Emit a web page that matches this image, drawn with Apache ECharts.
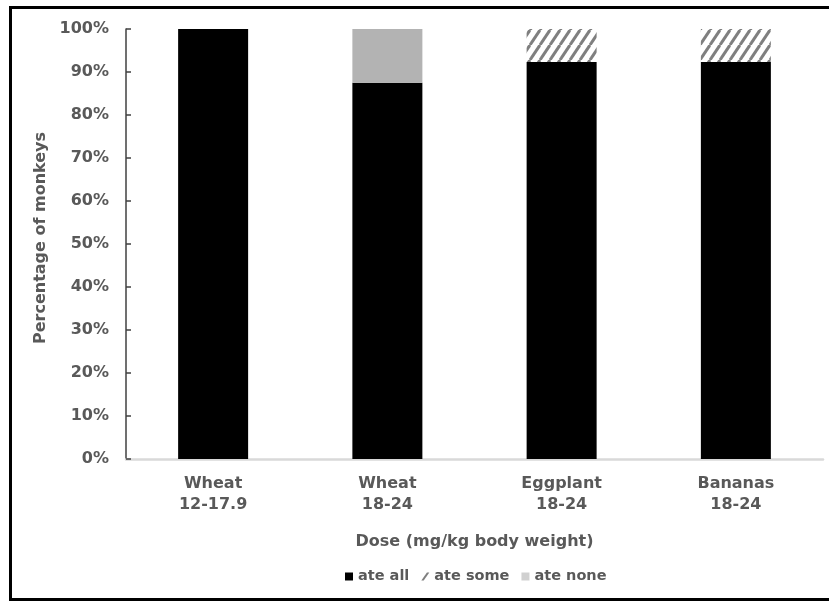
<!DOCTYPE html>
<html>
<head>
<meta charset="utf-8">
<script src="https://cdn.jsdelivr.net/npm/echarts@6/dist/echarts.min.js"></script>
<style>
html,body{margin:0;padding:0;background:#fff;}
#chart{width:829px;height:601px;}
</style>
</head>
<body>
<div id="chart"></div>
<script>
const categories = ['Wheat\n12-17.9', 'Wheat\n18-24', 'Eggplant\n18-24', 'Bananas\n18-24'];
const ateAll = [100, 87.5, 92.3, 92.3];
const ateSome = [0, 0, 7.7, 7.7];
const ateNone = [0, 12.5, 0, 0];
const seriesNames = ['ate all', 'ate some', 'ate none'];
const yTicks = { min: 0, max: 100, interval: 10 };

function hatch() {
  const w = 10, h = 15;
  const c = document.createElement('canvas');
  c.width = w; c.height = h;
  const ctx = c.getContext('2d');
  ctx.fillStyle = '#ffffff';
  ctx.fillRect(0, 0, w, h);
  ctx.strokeStyle = '#7f7f7f';
  ctx.lineWidth = 3;
  for (let k = -1; k <= 1; k++) {
    ctx.beginPath();
    ctx.moveTo(k * w, h);
    ctx.lineTo(k * w + w, 0);
    ctx.stroke();
  }
  return c;
}

const txt = '#595959';
const font = 'DejaVu Sans, Liberation Sans, Arial, sans-serif';
const chart = echarts.init(document.getElementById('chart'), null, { renderer: 'canvas' });
chart.setOption({
  animation: false,
  backgroundColor: '#fff',
  textStyle: { fontFamily: font },
  grid: { left: 126, right: 6, top: 29, bottom: 142 },
  legend: {
    left: 340, top: 564,
    itemWidth: 8, itemHeight: 8, itemGap: 12,
    textStyle: { color: txt, fontSize: 14.5, fontWeight: 'bold', fontFamily: font },
    data: [
      { name: seriesNames[0], icon: 'rect', itemStyle: { color: '#000' } },
      { name: seriesNames[1], icon: 'path://M0,10 L7,0 L10,0 L3,10 Z', itemStyle: { color: '#7f7f7f' } },
      { name: seriesNames[2], icon: 'rect', itemStyle: { color: '#d0d0d0' } }
    ]
  },
  xAxis: {
    type: 'category',
    data: categories,
    name: 'Dose (mg/kg body weight)',
    nameLocation: 'middle',
    nameGap: 75,
    nameTextStyle: { color: txt, fontSize: 16, fontWeight: 'bold', fontFamily: font },
    axisLine: { lineStyle: { color: '#d9d9d9', width: 2.5 } },
    axisTick: { show: false },
    axisLabel: { color: txt, fontSize: 16, fontWeight: 'bold', lineHeight: 21, margin: 14, fontFamily: font }
  },
  yAxis: {
    type: 'value',
    min: yTicks.min, max: yTicks.max, interval: yTicks.interval,
    name: 'Percentage of monkeys',
    nameLocation: 'middle',
    nameGap: 75,
    nameTextStyle: { color: txt, fontSize: 16, fontWeight: 'bold', fontFamily: font, padding: [0, 0, 0, 12] },
    axisLine: { show: true, lineStyle: { color: '#404040', width: 1.5 } },
    axisTick: { show: true, inside: true, length: 5, lineStyle: { color: '#404040', width: 1.5 } },
    splitLine: { show: false },
    axisLabel: { color: txt, fontSize: 16, fontWeight: 'bold', margin: 17, formatter: '{value}%', fontFamily: font }
  },
  series: [
    { name: seriesNames[0], type: 'bar', stack: 's', data: ateAll, barWidth: 70, itemStyle: { color: '#000' } },
    { name: seriesNames[1], type: 'bar', stack: 's', data: ateSome, barWidth: 70, itemStyle: { color: { image: hatch(), repeat: 'repeat' } } },
    { name: seriesNames[2], type: 'bar', stack: 's', data: ateNone, barWidth: 70, itemStyle: { color: '#b3b3b3' } }
  ],
  graphic: [
    { type: 'rect', silent: true, z: 100, shape: { x: 10.5, y: 7.5, width: 840, height: 592 }, style: { fill: 'none', stroke: '#000', lineWidth: 3 } }
  ]
});
</script>
</body>
</html>
